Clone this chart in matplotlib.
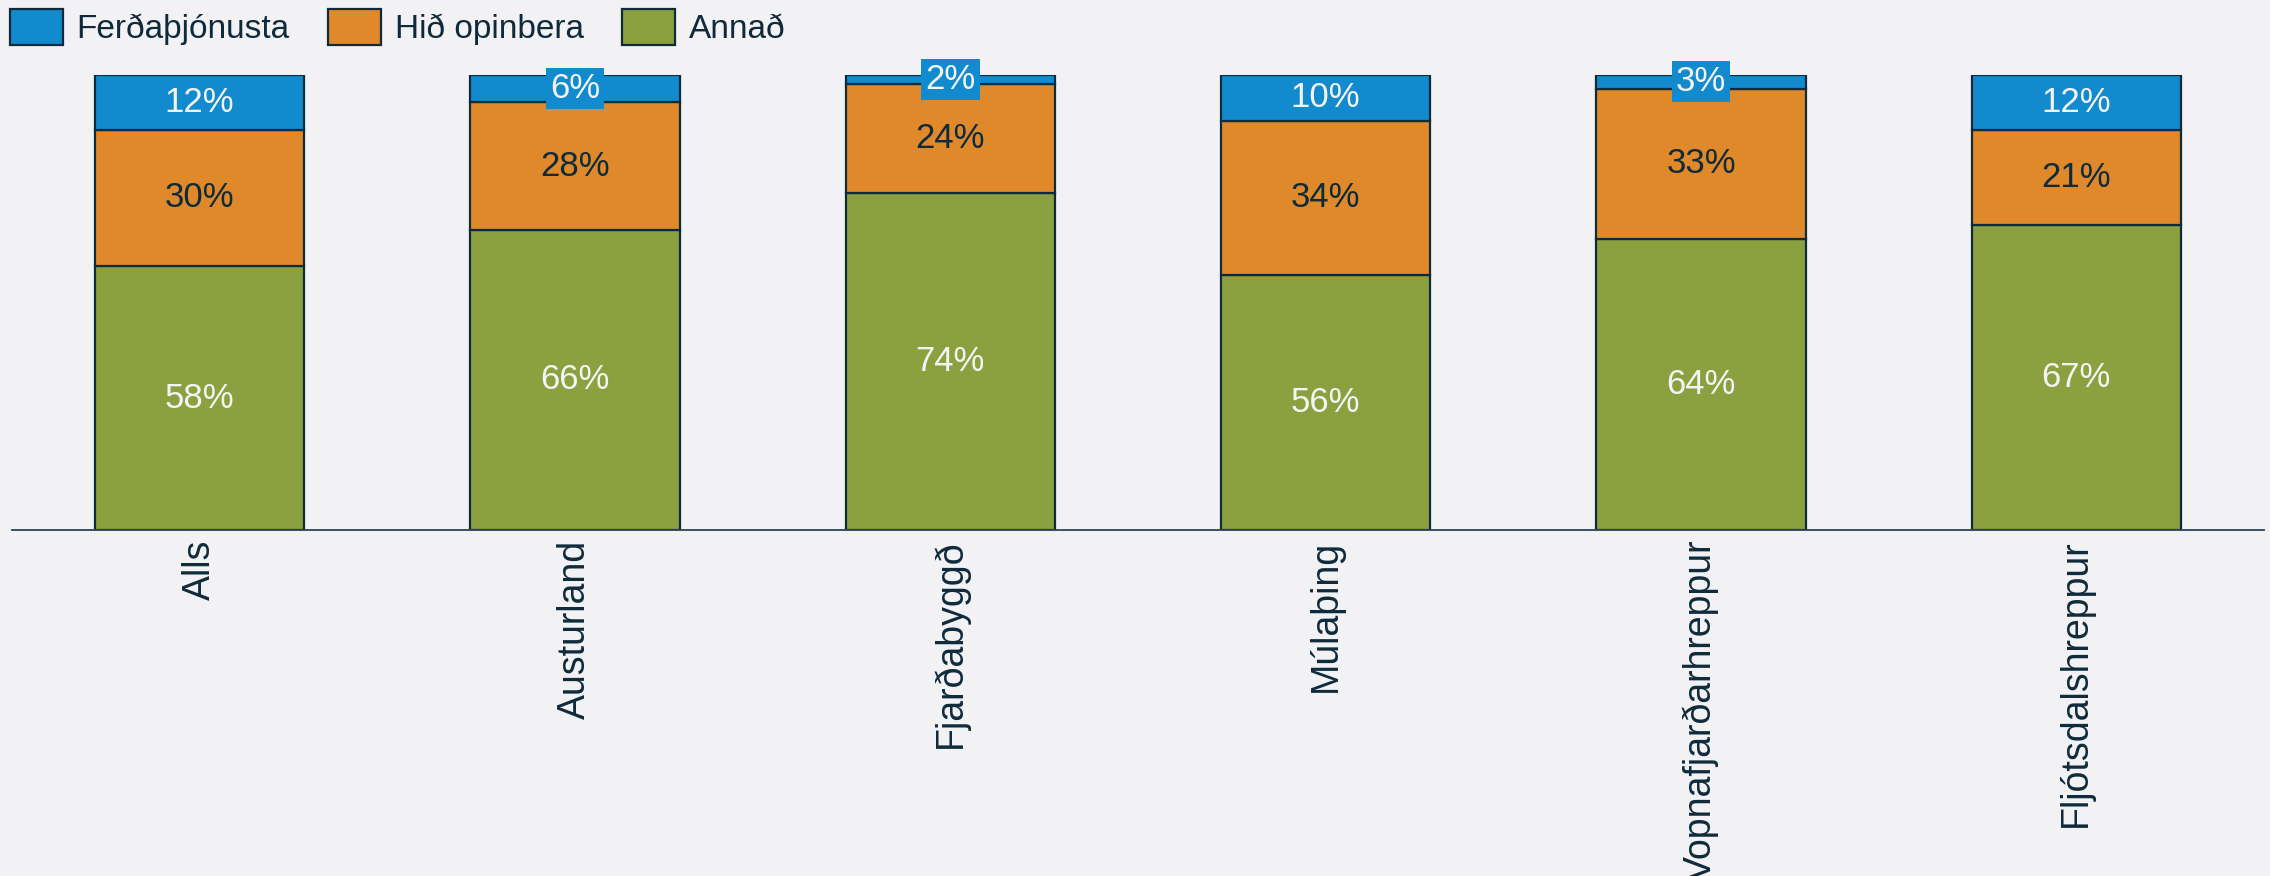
import matplotlib
matplotlib.use("Agg")
import matplotlib.pyplot as plt
import numpy as np

plt.rcParams['font.family'] = ['Liberation Sans', 'DejaVu Sans']

svaedi = ['Alls', 'Austurland', 'Fjarðabyggð', 'Múlaþing',
          'Vopnafjarðarhreppur', 'Fljótsdalshreppur']
ferdathjonusta = [12, 6, 2, 10, 3, 12]
hid_opinbera = [30, 28, 24, 34, 33, 21]
annad = [58, 66, 74, 56, 64, 67]

bg = '#f2f2f4'
dokkt = '#0e2a3b'
blar = '#118ace'
appels = '#e0892a'
graenn = '#8ba03e'

fig = plt.figure(figsize=(22.7, 8.76), dpi=100, facecolor=bg)
ax = fig.add_axes([12 / 2270, 346 / 876, 2252 / 2270, 455 / 876])
ax.set_facecolor(bg)

x = np.arange(len(svaedi))
b = 0.557
a = np.array(annad)
h = np.array(hid_opinbera)
f = np.array(ferdathjonusta)

ax.bar(x, a, b, color=graenn, edgecolor=dokkt, linewidth=1.6, label='Annað', zorder=2)
ax.bar(x, h, b, bottom=a, color=appels, edgecolor=dokkt, linewidth=1.6, label='Hið opinbera', zorder=2)
ax.bar(x, f, b, bottom=a + h, color=blar, edgecolor=dokkt, linewidth=1.6, label='Ferðaþjónusta', zorder=2)

# merkingar inni i stoplunum
for i in range(len(svaedi)):
    ax.text(x[i], a[i] / 2, f'{a[i]}%', ha='center', va='center',
            fontsize=25, color='#f4f4f4', zorder=3)
    ax.text(x[i], a[i] + h[i] / 2, f'{h[i]}%', ha='center', va='center',
            fontsize=25, color=dokkt, zorder=3)
    ax.text(x[i], a[i] + h[i] + f[i] / 2, f'{f[i]}%', ha='center', va='center',
            fontsize=25, color='#f4f4f4', zorder=4,
            bbox=dict(boxstyle='square,pad=0.12', facecolor=blar, edgecolor='none'))

ax.set_xlim(-0.5, len(svaedi) - 0.5)
ax.set_ylim(0, 100)
ax.set_yticks([])
ax.set_xticks(x)
ax.set_xticklabels(svaedi, rotation=90, fontsize=27, color=dokkt)
ax.tick_params(axis='x', length=0, pad=7)
for s in ['top', 'right', 'left']:
    ax.spines[s].set_visible(False)
ax.spines['bottom'].set_color('#2a4456')
ax.spines['bottom'].set_linewidth(1.3)

handles, labels = ax.get_legend_handles_labels()
leg = fig.legend(handles[::-1], labels[::-1], loc='upper left',
                 bbox_to_anchor=(10 / 2270, 1 - 9 / 876), ncol=3, frameon=False,
                 fontsize=24, handlelength=1.6, handleheight=1.3,
                 handletextpad=0.4, columnspacing=1.15, borderpad=0, borderaxespad=0)
for t in leg.get_texts():
    t.set_color(dokkt)

fig.savefig('out.png', dpi=100, facecolor=bg)
